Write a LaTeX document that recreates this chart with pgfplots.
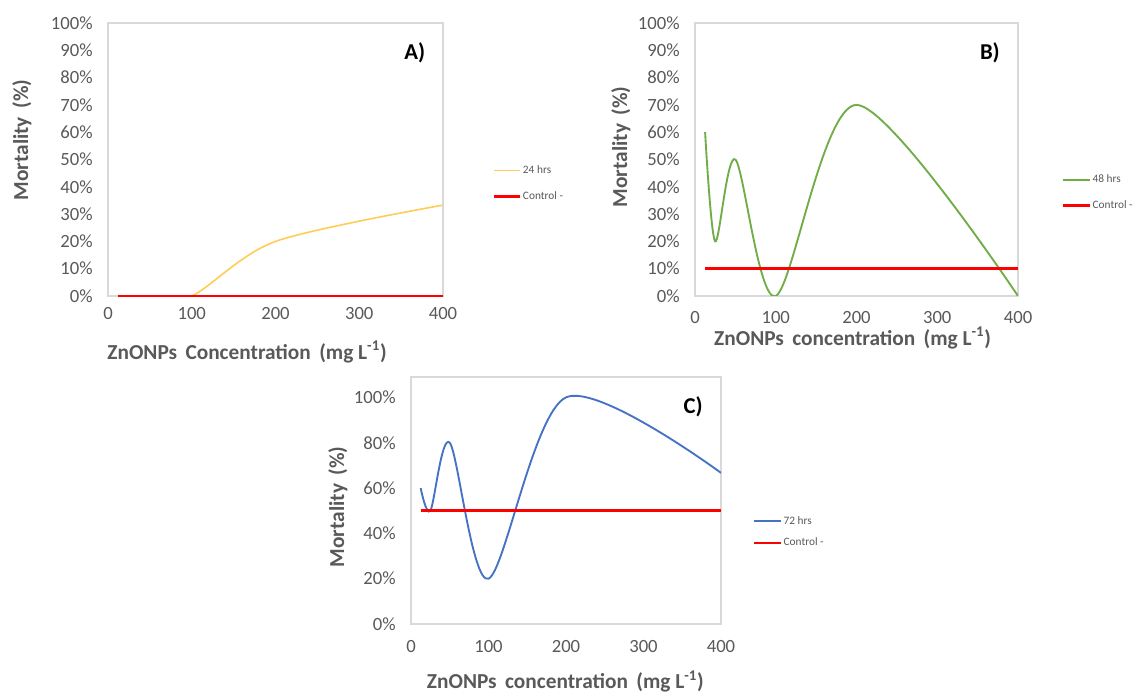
\documentclass[border=0pt]{standalone}
\usepackage{pgfplots}
\pgfplotsset{compat=1.18}
\usepackage{fontspec}
\setmainfont{Carlito}
\definecolor{txtgray}{HTML}{595959}
\definecolor{boxgray}{HTML}{D9D9D9}
\definecolor{yel}{RGB}{255,205,85}
\definecolor{grn}{HTML}{70AD47}
\definecolor{blu}{HTML}{4472C4}
\pgfplotsset{
  panel/.style={
    scale only axis,
    anchor=south west,
    xmin=0, xmax=400,
    xtick={0,100,200,300,400},
    axis line style={boxgray, line width=0.8pt},
    major tick length=0pt,
    tick label style={font=\fontsize{14}{16}\selectfont, text=txtgray},
    /pgf/number format/assume math mode=true,
    yticklabel={\pgfmathprintnumber{\tick}\%},
    yticklabel style={xshift=-8pt},
    label style={font=\bfseries\fontsize{16}{18}\selectfont, text=txtgray},
    legend cell align=left,
    legend image code/.code={\draw[#1] (0pt,0pt) -- (20pt,0pt);},
    legend style={draw=none, fill=none, inner sep=0pt, font=\fontsize{8.5}{10}\selectfont, text=txtgray,
      nodes={inner sep=1pt}},
  }
}
\begin{document}
\begin{tikzpicture}
\path[use as bounding box] (0,0) rectangle (850.5pt,519.75pt);

% Panel A: clipped overlay for the smoothed 24 h curve
\begin{axis}[scale only axis, anchor=south west,
  at={(81pt,297.75pt)}, width=251.25pt, height=204.75pt,
  xmin=0, xmax=400, ymin=0, ymax=100, axis lines=none, clip=true]
\addplot[yel, line width=1.2pt, smooth] coordinates {(12.5,0) (25,0) (50,0) (100,0) (200,20) (400,33.3)};
\end{axis}

% Panel A: frame, control line, labels
\begin{axis}[panel,
  at={(81pt,297.75pt)}, width=251.25pt, height=204.75pt,
  ymin=0, ymax=100, ytick={0,10,...,100},
  clip=false,
  xticklabel style={yshift=-5pt},
  xlabel={ZnONPs\, Concentration\, (mg L\textsuperscript{-1})},
  xlabel style={at={(axis description cs:0.415,0)}, anchor=center, yshift=-42pt},
  ylabel={Mortality\, (\%)},
  ylabel style={at={(axis description cs:0,0.571)}, anchor=center, yshift=64.5pt},
  legend style={at={(axis description cs:1,0.412)}, anchor=west, xshift=37pt, row sep=10pt},
]
\addlegendimage{yel, line width=1.2pt}
\addlegendentry{24 hrs}
\addplot[red, line width=1.8pt] coordinates {(12.5,0) (25,0) (50,0) (100,0) (200,0) (400,0)};
\addlegendentry{Control -}
\node[font=\bfseries\fontsize{17}{19}\selectfont, text=black] at (axis description cs:0.916,0.89) {A)};
\end{axis}

% Panel B
\begin{axis}[panel,
  at={(521.25pt,297.75pt)}, width=242.25pt, height=204.75pt,
  ymin=0, ymax=100, ytick={0,10,...,100},
  xticklabel style={yshift=-8pt},
  xlabel={ZnONPs\, concentration\, (mg L\textsuperscript{-1})},
  xlabel style={at={(axis description cs:0.488,0)}, anchor=center, yshift=-31.5pt},
  ylabel={Mortality\, (\%)},
  ylabel style={at={(axis description cs:0,0.546)}, anchor=center, yshift=55.5pt},
  legend style={at={(axis description cs:1,0.379)}, anchor=west, xshift=33pt, row sep=10pt},
]
\addplot[grn, line width=1.4pt, smooth] coordinates {(12.5,60) (25,20) (50,50) (100,0) (200,70) (400,0)};
\addlegendentry{48 hrs}
\addplot[red, line width=1.8pt] coordinates {(12.5,10) (25,10) (50,10) (100,10) (200,10) (400,10)};
\addlegendentry{Control -}
\node[font=\bfseries\fontsize{17}{19}\selectfont, text=black] at (axis description cs:0.913,0.89) {B)};
\end{axis}

% Panel C
\begin{axis}[panel,
  at={(308.25pt,51.75pt)}, width=232.5pt, height=185.25pt,
  ymin=0, ymax=109, ytick={0,20,...,100},
  xticklabel style={yshift=-9pt},
  xlabel={ZnONPs\, concentration\, (mg L\textsuperscript{-1})},
  xlabel style={at={(axis description cs:0.498,0)}, anchor=center, yshift=-43pt},
  ylabel={Mortality\, (\%)},
  ylabel style={at={(axis description cs:0,0.474)}, anchor=center, yshift=54.75pt},
  legend style={at={(axis description cs:1,0.372)}, anchor=west, xshift=24pt, row sep=7pt},
]
\addplot[blu, line width=1.4pt, smooth] coordinates {(12.5,60) (25,50) (50,80) (100,20) (200,100) (400,66.7)};
\addlegendentry{72 hrs}
\addplot[red, line width=1.8pt] coordinates {(12.5,50) (25,50) (50,50) (100,50) (200,50) (400,50)};
\addlegendentry{Control -}
\node[font=\bfseries\fontsize{17}{19}\selectfont, text=black] at (axis description cs:0.91,0.879) {C)};
\end{axis}
\end{tikzpicture}
\end{document}
